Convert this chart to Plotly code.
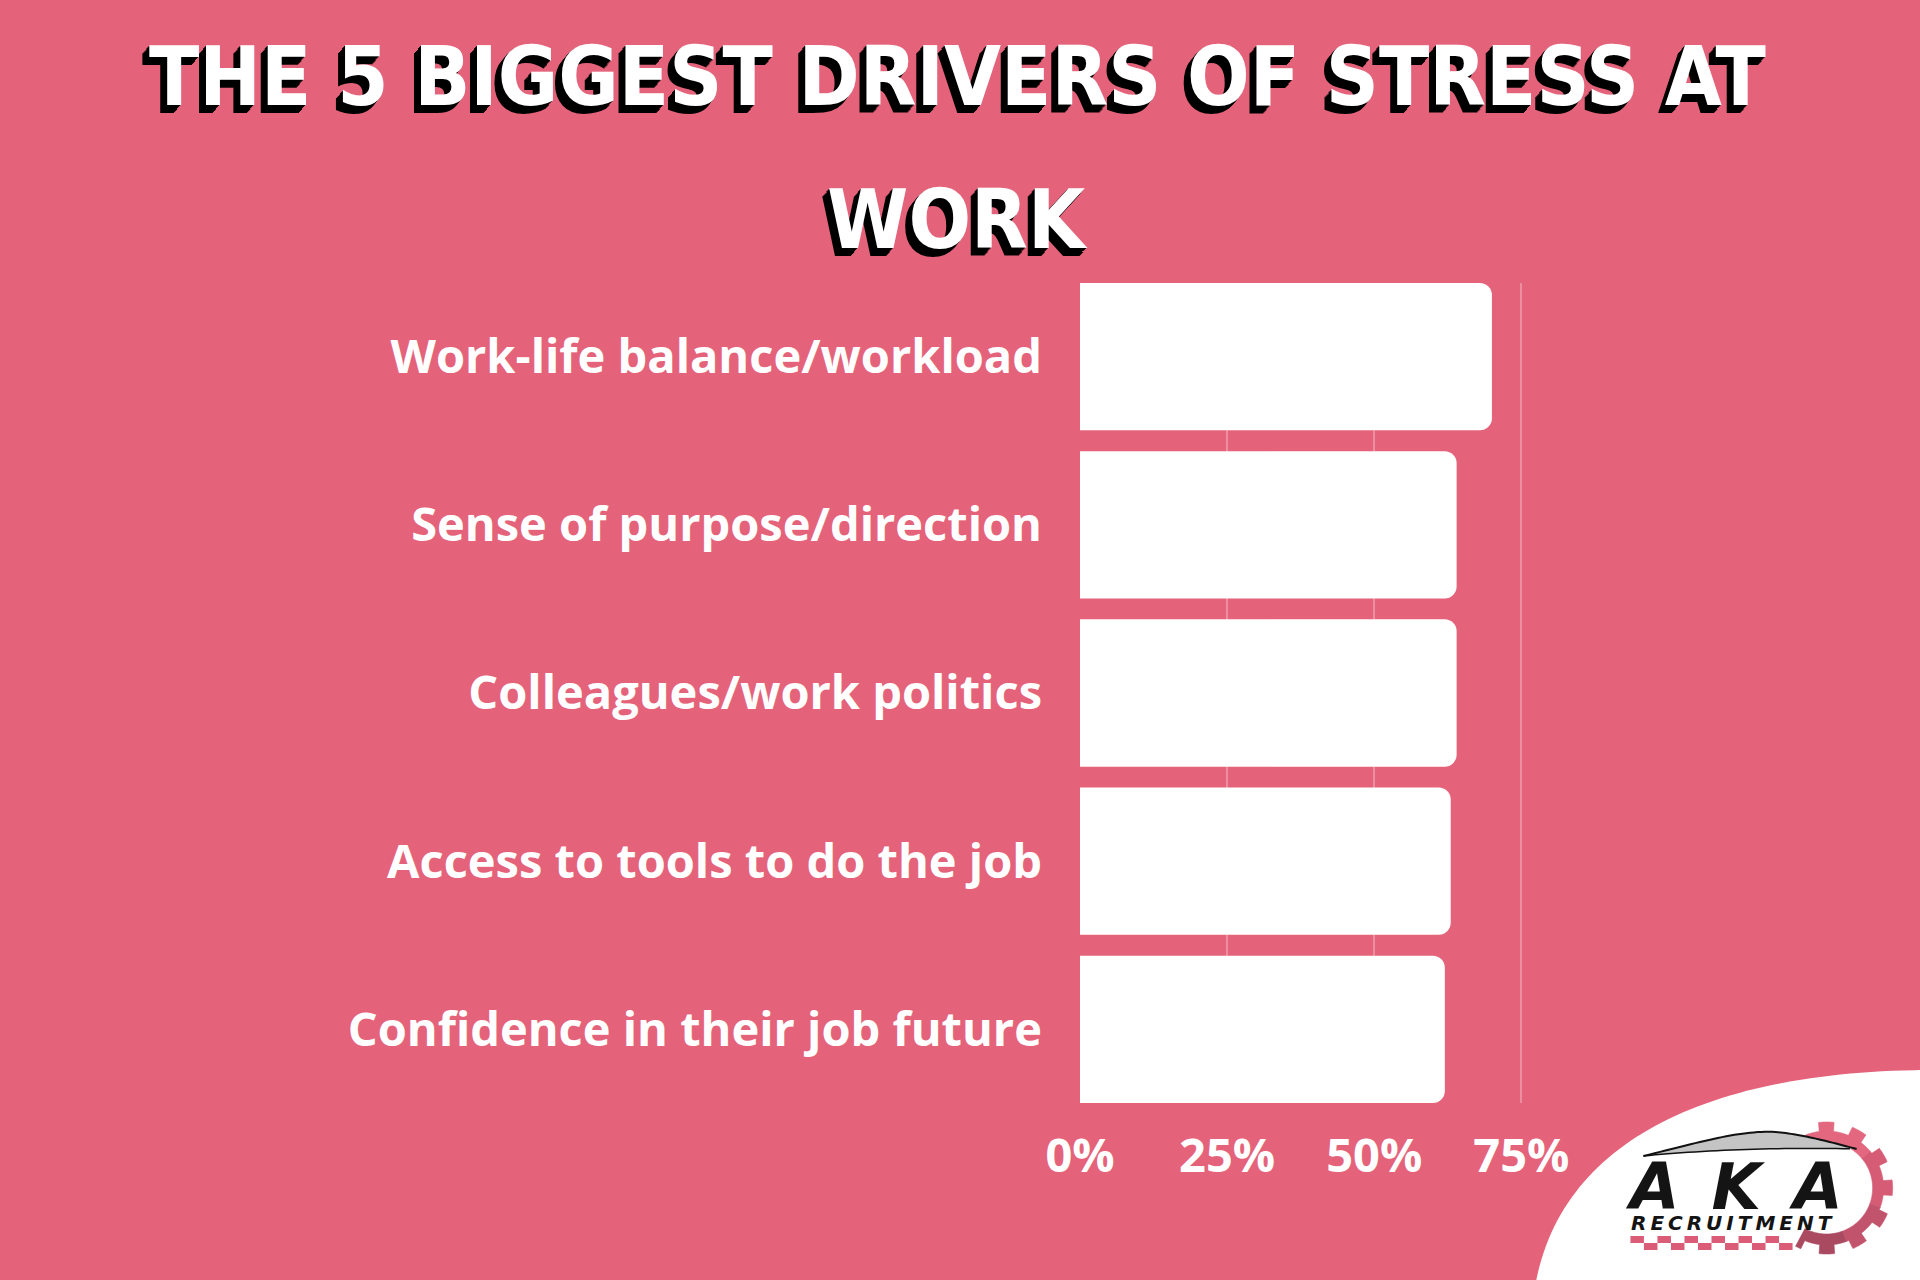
import math
import plotly.graph_objects as go

# ---------------- data ----------------
categories = [
    "Work-life balance/workload",
    "Sense of purpose/direction",
    "Colleagues/work politics",
    "Access to tools to do the job",
    "Confidence in their job future",
]
values = [70, 64, 64, 63, 62]
tick_values = [0, 25, 50, 75]
tick_labels = ["0%", "25%", "50%", "75%"]
title_line1 = "THE 5 BIGGEST DRIVERS OF STRESS AT"
title_line2 = "WORK"
logo_main = "AKA"
logo_sub = "RECRUITMENT"

# ---------------- layout geometry ----------------
W, H = 1920, 1280
BG = "#E4637A"
X_MAX = 78
PLOT_L, PLOT_T, PLOT_B = 1080, 283, 1103
PX_PER_UNIT = 147 / 25
PLOT_R = PLOT_L + X_MAX * PX_PER_UNIT
BARGAP = 0.124
HALF = (1 - BARGAP) / 2


def px(x):
    return (x - PLOT_L) / (PLOT_R - PLOT_L)


def py(y):
    return (PLOT_B - y) / (PLOT_B - PLOT_T)


def path_from(points, close=True):
    s = "M " + " L ".join(f"{px(x):.5f},{py(y):.5f}" for x, y in points)
    return s + (" Z" if close else "")


def bezier(p0, p1, p2, p3, n=60):
    pts = []
    for i in range(n + 1):
        t = i / n
        a = (1 - t) ** 3
        b = 3 * (1 - t) ** 2 * t
        c = 3 * (1 - t) * t ** 2
        d = t ** 3
        pts.append((a * p0[0] + b * p1[0] + c * p2[0] + d * p3[0],
                    a * p0[1] + b * p1[1] + c * p2[1] + d * p3[1]))
    return pts


fig = go.Figure()
fig.add_trace(
    go.Bar(
        x=values,
        y=categories,
        orientation="h",
        marker=dict(color="white", line=dict(width=0)),
        hoverinfo="skip",
    )
)

label_font = dict(family="Open Sans", size=47, color="white", weight="bold")

shapes = []

# white blob bottom-right
blob = bezier((1535, 1285), (1560, 1145), (1700, 1072), (1925, 1070))
blob += [(1925, 1285)]
shapes.append(dict(type="path", xref="paper", yref="paper", path=path_from(blob),
                   fillcolor="white", line=dict(width=0), layer="above"))

# gear (right part)
cx, cy = 1826, 1188
r_tooth, r_root, r_in = 66, 57, 46
a_start, a_end = -112, 118
gear_cols = ["#E2677F", "#D65C76", "#C2536C", "#A94A61"]
seg_edges = [a_start, -40, 20, 70, a_end]
for si in range(4):
    s0, s1 = seg_edges[si], seg_edges[si + 1]
    outer = []
    a = s0
    while a <= s1 + 1e-9:
        phase = (a + 7) % 30
        r = r_tooth if phase < 14 else r_root
        rad = math.radians(a)
        outer.append((cx + r * math.cos(rad), cy + r * math.sin(rad)))
        a += 0.5
    inner = []
    a = s1
    while a >= s0 - 1e-9:
        rad = math.radians(a)
        inner.append((cx + r_in * math.cos(rad), cy + r_in * math.sin(rad)))
        a -= 2
    shapes.append(dict(type="path", xref="paper", yref="paper", path=path_from(outer + inner),
                       fillcolor=gear_cols[si], line=dict(width=0.6, color=gear_cols[si]), layer="above"))

# car swoosh
roof = bezier((1643, 1156), (1700, 1142), (1740, 1130), (1775, 1132), 30)
roof += bezier((1775, 1132), (1800, 1134), (1830, 1142), (1856, 1149), 30)[1:]
lower = bezier((1856, 1149), (1790, 1147), (1700, 1150), (1643, 1156), 30)[1:]
shapes.append(dict(type="path", xref="paper", yref="paper", path=path_from(roof + lower),
                   fillcolor="#c4c4c4", line=dict(width=0), layer="above"))
shapes.append(dict(type="path", xref="paper", yref="paper", path=path_from(roof, close=False),
                   line=dict(width=2, color="#111"), layer="above"))
shapes.append(dict(type="path", xref="paper", yref="paper", path=path_from(lower, close=False),
                   line=dict(width=1.5, color="#111"), layer="above"))

# checkered strip
for row in range(2):
    for k in range(6):
        x0 = 1630 + k * 27 + row * 13.5
        y0 = 1236 + row * 7
        shapes.append(dict(type="rect", xref="paper", yref="paper",
                           x0=px(x0), x1=px(x0 + 13.5), y0=py(y0), y1=py(y0 + 7),
                           fillcolor="#DA5C77", line=dict(width=0), layer="above"))

shadow = ", ".join(f"-{i}px {i + (1 if i > 3 else 0)}px 0px #000" for i in range(1, 8))
title_font = dict(family="DejaVu Sans Condensed, DejaVu Sans, sans-serif",
                  size=82, color="white", weight="bold", shadow=shadow)

annotations = [
    dict(text=title_line1, x=px(958), y=py(76), xref="paper", yref="paper",
         xanchor="center", yanchor="middle", showarrow=False, font=title_font),
    dict(text=title_line2, x=px(958), y=py(220), xref="paper", yref="paper",
         xanchor="center", yanchor="middle", showarrow=False, font=title_font),
    dict(text="\u2002".join(logo_main), x=px(1733), y=py(1226), xref="paper", yref="paper",
         xanchor="center", yanchor="bottom", showarrow=False,
         font=dict(family="DejaVu Sans", size=64, color="#141414",
                   weight="bold", style="italic")),
    dict(text="\u2009".join(logo_sub), x=px(1731), y=py(1223), xref="paper", yref="paper",
         xanchor="center", yanchor="middle", showarrow=False,
         font=dict(family="DejaVu Sans", size=20, color="#141414",
                   weight="bold", style="italic")),
]

fig.update_layout(
    width=W,
    height=H,
    paper_bgcolor=BG,
    plot_bgcolor=BG,
    margin=dict(l=PLOT_L, r=W - PLOT_R, t=PLOT_T, b=H - PLOT_B, pad=0),
    bargap=BARGAP,
    barcornerradius=12,
    showlegend=False,
    shapes=shapes,
    annotations=annotations,
    xaxis=dict(
        range=[0, X_MAX],
        tickvals=tick_values,
        ticktext=tick_labels,
        showgrid=True,
        gridcolor="rgba(255,255,255,0.28)",
        gridwidth=1.5,
        zeroline=False,
        showline=False,
        ticks="",
        tickfont=label_font,
        ticklabelstandoff=21,
        fixedrange=True,
    ),
    yaxis=dict(
        type="category",
        categoryorder="array",
        categoryarray=categories,
        range=[len(categories) - 1 + HALF, -HALF],
        showgrid=False,
        zeroline=False,
        showline=False,
        ticks="",
        tickfont=label_font,
        ticklabelstandoff=37,
        fixedrange=True,
    ),
)

fig.write_html(
    "out.html",
    config={"displayModeBar": False},
    post_script="document.body.style.margin='0';document.body.style.overflow='hidden';",
)
